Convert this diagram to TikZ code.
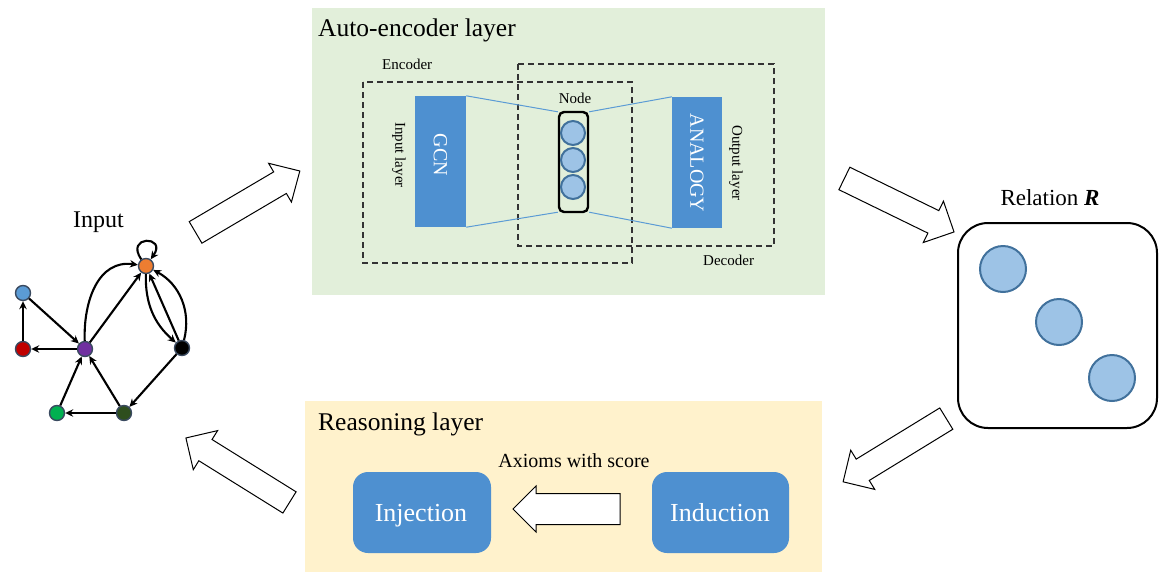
\documentclass[tikz,border=0pt]{standalone}
\usepackage{fontspec}
\setmainfont{Liberation Serif}
\usetikzlibrary{arrows.meta}

\definecolor{aegreen}{HTML}{E2EFDA}
\definecolor{rsyellow}{HTML}{FFF2CC}
\definecolor{boxblue}{HTML}{4E90D0}
\definecolor{lightblue}{HTML}{9DC3E6}
\definecolor{edgeblue}{HTML}{41719C}
\definecolor{wireblue}{HTML}{5B9BD5}
\definecolor{gborder}{HTML}{3A4A60}
\definecolor{gblue}{HTML}{5B9BD5}
\definecolor{gred}{HTML}{C00000}
\definecolor{gpurple}{HTML}{7030A0}
\definecolor{gorange}{HTML}{ED7D31}
\definecolor{ggreen}{HTML}{00B050}
\definecolor{gdkgreen}{HTML}{2E4E1E}

\newcommand{\fsz}[1]{\fontsize{#1}{#1}\selectfont}
% hollow block arrow: centre x, centre y, angle, length, shaft width, head width, head length
\newcommand{\hollowarrow}[7]{%
  \draw[blockarrow, shift={(#1,#2)}, rotate=#3]
    ({-#4/2},{-#5/2}) -- ({#4/2-#7},{-#5/2}) -- ({#4/2-#7},{-#6/2}) -- ({#4/2},0)
    -- ({#4/2-#7},{#6/2}) -- ({#4/2-#7},{#5/2}) -- ({-#4/2},{#5/2}) -- cycle;}

\tikzset{
  gnode/.style={circle, draw=gborder, line width=1.4, minimum size=15, inner sep=0},
  gedge/.style={line width=2.1, -{Stealth[length=8,width=7.5]}},
  blockarrow/.style={draw=black, fill=white, line width=1, line join=miter},
  dashbox/.style={draw=black!80, line width=1.2, dash pattern=on 6pt off 4pt},
  bluebox/.style={fill=boxblue, draw=none},
  bubble/.style={circle, fill=lightblue, draw=edgeblue, line width=2, inner sep=0},
  wire/.style={draw=wireblue, line width=1},
  title/.style={anchor=base west, inner sep=0, font=\fsz{25.5}},
}

\begin{document}
\begin{tikzpicture}[x=1pt,y=-1pt]
\useasboundingbox (0,0) rectangle (1159,574);

% ---------- auto-encoder panel ----------
\fill[aegreen] (312,8) rectangle (825,295);
\node[title] (aetitle) at (318,36) {Auto-encoder layer};

\draw[dashbox] (363,82) rectangle (632,263);
\draw[dashbox] (518,64) rectangle (774,246);
\node[anchor=base west, inner sep=0, font=\fsz{15}] (enc) at (382,69) {Encoder};
\node[anchor=base west, inner sep=0, font=\fsz{15}] (dec) at (703,265) {Decoder};

\node[bluebox, minimum width=51, minimum height=131] (gcn) at (440.5,161.5) {};
\node[rotate=-90, text=white, font=\fsz{20}] at (440.5,155) {GCN};
\node[bluebox, minimum width=50, minimum height=131] (ana) at (697,162.5) {};
\node[rotate=-90, text=white, font=\fsz{20}] at (697,163) {ANALOGY};

\node[rotate=-90, font=\fsz{15}] (inl) at (399,155) {Input layer};
\node[rotate=-90, font=\fsz{15}] (outl) at (736,163) {Output layer};

\node[draw=black, line width=2.4, rounded corners=5, minimum width=29, minimum height=100,
  inner sep=0] (code) at (573.5,162) {};
\node[anchor=base, inner sep=0, font=\fsz{15}] (nodelbl) at (575,103) {Node};
\node[bubble, minimum size=24] (c1) at (573,133) {};
\node[bubble, minimum size=24] (c2) at (573,160) {};
\node[bubble, minimum size=24] (c3) at (573,187) {};

\draw[wire] (gcn.north east) -- ([yshift=-1]code.north west);
\draw[wire] (gcn.south east) -- ([yshift=1]code.south west);
\draw[wire] ([yshift=-1]code.north east) -- (ana.north west);
\draw[wire] ([yshift=1]code.south east) -- (ana.south west);

% ---------- reasoning panel ----------
\fill[rsyellow] (305,401) rectangle (822,572);
\node[title] (rstitle) at (318,430) {Reasoning layer};

\node[bluebox, rounded corners=15, minimum width=138, minimum height=81] (inj) at (422,512.5) {};
\node[bluebox, rounded corners=15, minimum width=137, minimum height=81] (ind) at (720.5,512.5) {};
\node[anchor=base, inner sep=0, text=white, font=\fsz{26}] at (421,521.5) {Injection};
\node[anchor=base, inner sep=0, text=white, font=\fsz{26}] at (720,521.5) {Induction};
\node[anchor=base, inner sep=0, font=\fsz{20}] (axl) at (574,467) {Axioms with score};
\hollowarrow{566.5}{509}{180}{107}{31}{46}{23}

% ---------- relation panel ----------
\node[anchor=base, inner sep=0, font=\fsz{23}] (rellbl) at (1050,205) {Relation \textbf{\textit{R}}};
\draw[line width=2, rounded corners=30] (958,223) rectangle (1157,428);
\node[bubble, minimum size=46] (r1) at (1003,269) {};
\node[bubble, minimum size=46] (r2) at (1059,322) {};
\node[bubble, minimum size=46] (r3) at (1112,378) {};

% ---------- input graph ----------
\node[anchor=base, inner sep=0, font=\fsz{24}] (inlbl) at (98.5,227) {Input};

\node[gnode, fill=gorange] (or) at (146,266) {};
\node[gnode, fill=gblue] (bl) at (23,293) {};
\node[gnode, fill=gred] (rd) at (23,349) {};
\node[gnode, fill=gpurple] (pu) at (85,349) {};
\node[gnode, fill=black] (bk) at (182,348) {};
\node[gnode, fill=ggreen] (gr) at (57,413) {};
\node[gnode, fill=gdkgreen] (dg) at (124,413) {};

\draw[gedge] (rd) -- (bl);
\draw[gedge] (bl) -- (pu);
\draw[gedge] (pu) -- (rd);
\draw[gedge] (pu) -- (or);
\draw[gedge] (pu) to[out=92,in=172,looseness=1.1] (or);
\draw[gedge] (or) to[bend right=25] (bk);
\draw[gedge] (bk) -- (or);
\draw[gedge] (bk) to[bend right=38] (or);
\draw[gedge] (or) to[out=125,in=55,min distance=13,looseness=8] (or);
\draw[gedge] (bk) -- (dg);
\draw[gedge] (dg) -- (gr);
\draw[gedge] (gr) -- (pu);
\draw[gedge] (dg) -- (pu);

% ---------- flow arrows between panels ----------
\hollowarrow{247.7}{201.7}{30.5}{121}{25}{45}{23}
\hollowarrow{899.2}{205.2}{-26}{122}{25}{46}{23}
\hollowarrow{894.7}{450.2}{211.5}{121}{25}{46}{23}
\hollowarrow{237.7}{470.2}{148.1}{122}{25}{46}{23}
\end{tikzpicture}
\end{document}
